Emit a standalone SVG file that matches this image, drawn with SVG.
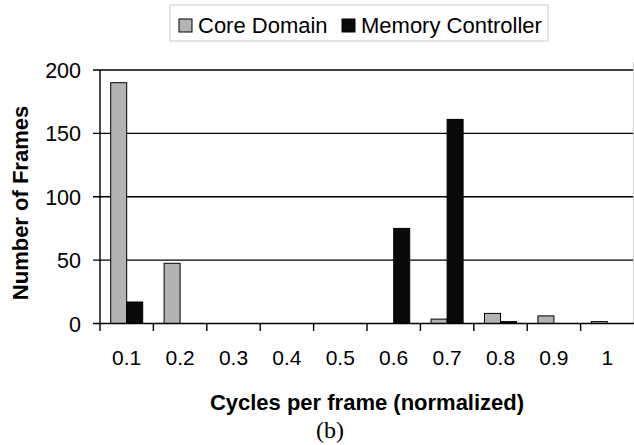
<svg xmlns="http://www.w3.org/2000/svg" width="634" height="445" viewBox="0 0 634 445">
<style>
.t{font-family:"Liberation Sans",Arial,sans-serif;fill:#000}
.tick{font-size:21px;text-anchor:middle}
.ytick{font-size:21.5px;text-anchor:end}
.title{font-size:22px;font-weight:bold;text-anchor:middle}
.leg{font-size:22px}
.grid{stroke:#000;stroke-width:1.4;fill:none}
.ax{stroke:#000;stroke-width:1.4;fill:none}
.g{fill:#b3b3b3;stroke:#000;stroke-width:1}
.k{fill:#0a0a0a;stroke:#000;stroke-width:1}
</style>
<rect width="634" height="445" fill="#fff"/>
<g id="legend">
<rect x="170" y="5" width="378" height="36" fill="#fff" stroke="#d4d4d4" stroke-width="1.2"/>
<rect class="g" x="179" y="19" width="13" height="13"/>
<text class="t leg" x="198" y="33">Core Domain</text>
<rect class="k" x="342" y="19" width="13" height="13"/>
<text class="t leg" x="361" y="33">Memory Controller</text>
</g>
<g id="gridlines">
<line class="grid" x1="100" y1="70" x2="634" y2="70"/>
<line class="grid" x1="100" y1="133.4" x2="634" y2="133.4"/>
<line class="grid" x1="100" y1="196.75" x2="634" y2="196.75"/>
<line class="grid" x1="100" y1="260.1" x2="634" y2="260.1"/>
<line x1="633.5" y1="62" x2="633.5" y2="323" stroke="#d4d4d4" stroke-width="1"/>
</g>
<g id="bars">
<rect class="g" x="110.7" y="82.7" width="16" height="240.8"/>
<rect class="k" x="126.7" y="302" width="16" height="21.5"/>
<rect class="g" x="164.1" y="263.3" width="16" height="60.2"/>
<rect class="k" x="393.7" y="228.4" width="16" height="95.1"/>
<rect class="g" x="431.1" y="319.1" width="16" height="4.4"/>
<rect class="k" x="447.1" y="119.4" width="16" height="204.1"/>
<rect class="g" x="484.5" y="313.4" width="16" height="10.1"/>
<rect class="k" x="500.5" y="321.6" width="16" height="1.9"/>
<rect class="g" x="537.9" y="315.9" width="16" height="7.6"/>
<rect class="g" x="591.3" y="321.6" width="16" height="1.9"/>
</g>
<g id="axes">
<line class="ax" x1="100" y1="70" x2="100" y2="323.5"/>
<line class="ax" x1="100" y1="323.5" x2="634" y2="323.5"/>
<path class="ax" d="M93 70H100M93 133.4H100M93 196.75H100M93 260.1H100M93 323.5H100"/>
<path class="ax" d="M100 323.5V331M153.4 323.5V331M206.8 323.5V331M260.2 323.5V331M313.6 323.5V331M367 323.5V331M420.4 323.5V331M473.8 323.5V331M527.2 323.5V331M580.6 323.5V331"/>
</g>
<g id="ylabels">
<text class="t ytick" x="81" y="78">200</text>
<text class="t ytick" x="81" y="141.4">150</text>
<text class="t ytick" x="81" y="204.75">100</text>
<text class="t ytick" x="81" y="268.1">50</text>
<text class="t ytick" x="81" y="331.5">0</text>
</g>
<g id="xlabels">
<text class="t tick" x="126.7" y="365">0.1</text>
<text class="t tick" x="180.1" y="365">0.2</text>
<text class="t tick" x="233.5" y="365">0.3</text>
<text class="t tick" x="286.9" y="365">0.4</text>
<text class="t tick" x="340.3" y="365">0.5</text>
<text class="t tick" x="393.7" y="365">0.6</text>
<text class="t tick" x="447.1" y="365">0.7</text>
<text class="t tick" x="500.5" y="365">0.8</text>
<text class="t tick" x="553.9" y="365">0.9</text>
<text class="t tick" x="607.3" y="365">1</text>
</g>
<g id="titles">
<text class="t title" transform="translate(28,203) rotate(-90)" x="0" y="0">Number of Frames</text>
<text class="t title" x="367" y="410">Cycles per frame (normalized)</text>
<text x="330" y="438" text-anchor="middle" style="font-family:'Liberation Serif','Times New Roman',serif;font-size:24px;fill:#000">(b)</text>
</g>
</svg>
